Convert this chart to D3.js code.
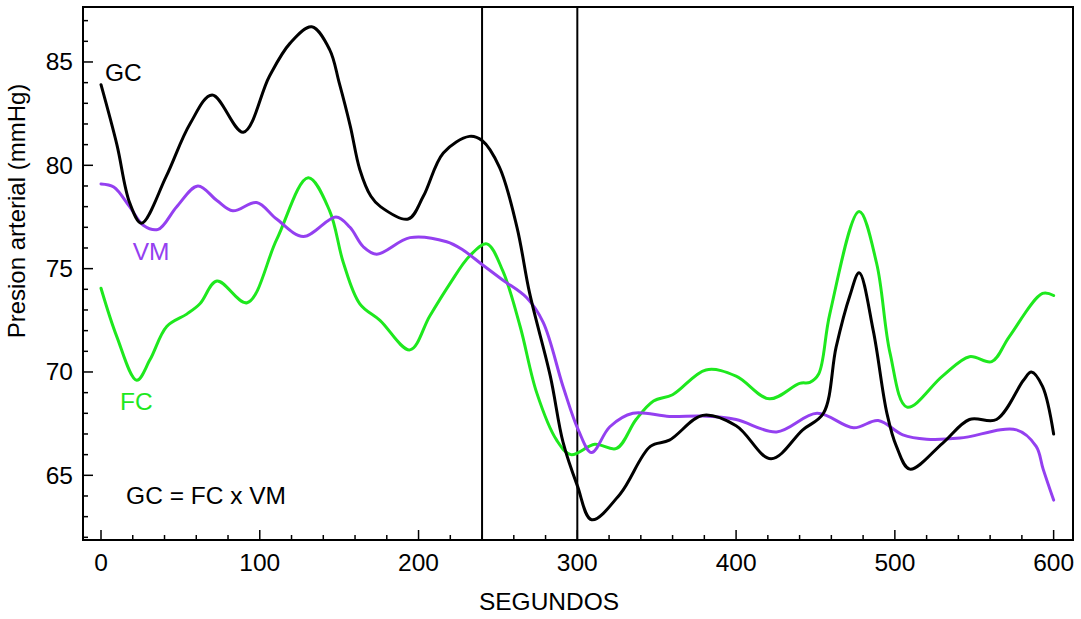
<!DOCTYPE html>
<html><head><meta charset="utf-8">
<script src="https://cdn.jsdelivr.net/npm/d3@7"></script>
<style>body{margin:0;background:#fff}svg{display:block}text{font-family:"Liberation Sans",Arial,Helvetica,sans-serif}</style>
</head><body><svg id="c" width="1081" height="619"></svg>
<script>
// Data (seconds, mmHg)
const gcTime = [0,10,18,25.5,41,56,70,89.6,106,119,132.7,144,150,157,163,170,176,193.5,203,215.6,232,240,251,262,270,283,291,300,309,327,346,358,379,400,422,442,455,463,471.7,477.5,486.4,495,501,509.4,530,547,564,581,586,593,600];
const gcValues = [83.9,81.0,78.2,77.2,79.45,82.0,83.4,81.6,84.3,85.9,86.7,85.6,84.0,81.9,79.8,78.5,78.0,77.4,78.5,80.6,81.4,81.2,79.9,77.0,73.8,69.8,66.6,64.5,62.85,64.1,66.4,66.7,67.9,67.4,65.8,67.2,68.0,71.2,73.7,74.8,72.0,68.0,66.4,65.3,66.55,67.7,67.7,69.6,70.0,69.3,67.0];

const vmTime = [0,8,18,26.6,36,47.7,61,73,83,98,110.6,127.4,148,156.8,165.2,173.6,194.6,217.7,228,240,253,268,278.5,291,300.6,309,320.5,335,358,379,400,425.5,451,474,489.5,505,520,541,576.6,589,593.4,600];
const vmValues = [79.1,78.95,78.0,77.1,76.9,78.0,79.0,78.3,77.8,78.2,77.4,76.55,77.5,77.0,76.06,75.7,76.5,76.3,75.9,75.2,74.45,73.6,72.4,69.3,67.2,66.1,67.35,68.0,67.85,67.87,67.7,67.1,68.0,67.3,67.65,66.96,66.75,66.8,67.2,66.4,65.3,63.8];

const fcTime = [0,10,22.5,30.9,41.4,54,62.3,73,92,110.6,130.5,144,152.6,163,175.7,194.6,207,220,232,243,253,264,274.4,287,296,311,324.7,337,348,360,381,400,421,440,446.5,452,459,477.5,488.5,497,507.7,530,547,561,572,593,600];
const fcValues = [74.05,71.7,69.6,70.6,72.2,72.8,73.3,74.4,73.35,76.4,79.4,77.8,75.3,73.3,72.5,71.07,72.7,74.3,75.6,76.2,74.9,72.2,69.0,66.7,66.0,66.5,66.3,67.7,68.6,68.9,70.1,69.8,68.7,69.45,69.5,69.9,72.8,77.76,75.26,70.9,68.3,69.8,70.74,70.5,71.7,73.8,73.7];

const markerTimes = [240,300];
const xMajorTicks = [0,100,200,300,400,500,600];
const yMajorTicks = [65,70,75,80,85];
const seriesNames = ["GC","VM","FC"];
const formulaText = "GC = FC x VM";
const xTitle = "SEGUNDOS";
const yTitle = "Presion arterial (mmHg)";

const svg = d3.select("#c");
const L=83,R=1073,T=7,B=540;
const x = d3.scaleLinear().domain([-11.34,612.2]).range([L,R]);
const y = d3.scaleLinear().domain([61.87,87.66]).range([B,T]);
const colors = {GC:"#000000",VM:"#9440f0",FC:"#1ee81e"};
const FS = 24.5;

// frame
svg.append("rect").attr("x",L).attr("y",T).attr("width",R-L).attr("height",B-T)
  .attr("fill","none").attr("stroke","#000").attr("stroke-width",2);

// x ticks
const xMinor = d3.range(0,601,20);
svg.append("g").selectAll("line").data(xMinor).join("line")
  .attr("x1",d=>x(d)).attr("x2",d=>x(d)).attr("y1",B).attr("y2",d=>B-(d%100===0?10:5))
  .attr("stroke","#000").attr("stroke-width",1.5);
svg.append("g").selectAll("text").data(xMajorTicks).join("text")
  .attr("x",d=>x(d)).attr("y",571).attr("text-anchor","middle").attr("font-size",FS).text(d=>d);
// y ticks
const yMinor = d3.range(62,88,1);
svg.append("g").selectAll("line").data(yMinor).join("line")
  .attr("y1",d=>y(d)).attr("y2",d=>y(d)).attr("x1",L).attr("x2",d=>L+(d%5===0?10:5))
  .attr("stroke","#000").attr("stroke-width",1.5);
svg.append("g").selectAll("text").data(yMajorTicks).join("text")
  .attr("x",73).attr("y",d=>y(d)+8.5).attr("text-anchor","end").attr("font-size",FS).text(d=>d);

svg.append("text").attr("x",549).attr("y",610).attr("text-anchor","middle").attr("font-size",FS).text(xTitle);
svg.append("text").attr("transform","translate(25,211) rotate(-90)").attr("text-anchor","middle").attr("font-size",24).text(yTitle);

// marker lines
svg.append("g").selectAll("line").data(markerTimes).join("line")
  .attr("x1",d=>x(d)).attr("x2",d=>x(d)).attr("y1",T).attr("y2",B)
  .attr("stroke","#000").attr("stroke-width",2);

const line = d3.line().curve(d3.curveCatmullRom.alpha(0.5)).x(d=>x(d[0])).y(d=>y(d[1]));
const series = [
  {name:"FC",t:fcTime,v:fcValues},
  {name:"VM",t:vmTime,v:vmValues},
  {name:"GC",t:gcTime,v:gcValues}
];
series.forEach(s=>{
  svg.append("path").datum(s.t.map((t,i)=>[t,s.v[i]]))
    .attr("d",line).attr("fill","none").attr("stroke",colors[s.name])
    .attr("stroke-width",3).attr("stroke-linejoin","round").attr("stroke-linecap","round");
});

// labels
svg.append("text").attr("x",x(2.5)).attr("y",y(84.06)).attr("font-size",FS).attr("fill",colors.GC).text(seriesNames[0]);
svg.append("text").attr("x",x(20)).attr("y",y(75.42)).attr("font-size",FS).attr("fill",colors.VM).text(seriesNames[1]);
svg.append("text").attr("x",x(12)).attr("y",y(68.15)).attr("font-size",FS).attr("fill",colors.FC).text(seriesNames[2]);
svg.append("text").attr("x",x(15.8)).attr("y",y(63.6)).attr("font-size",FS).attr("fill","#000").text(formulaText);
</script></body></html>
